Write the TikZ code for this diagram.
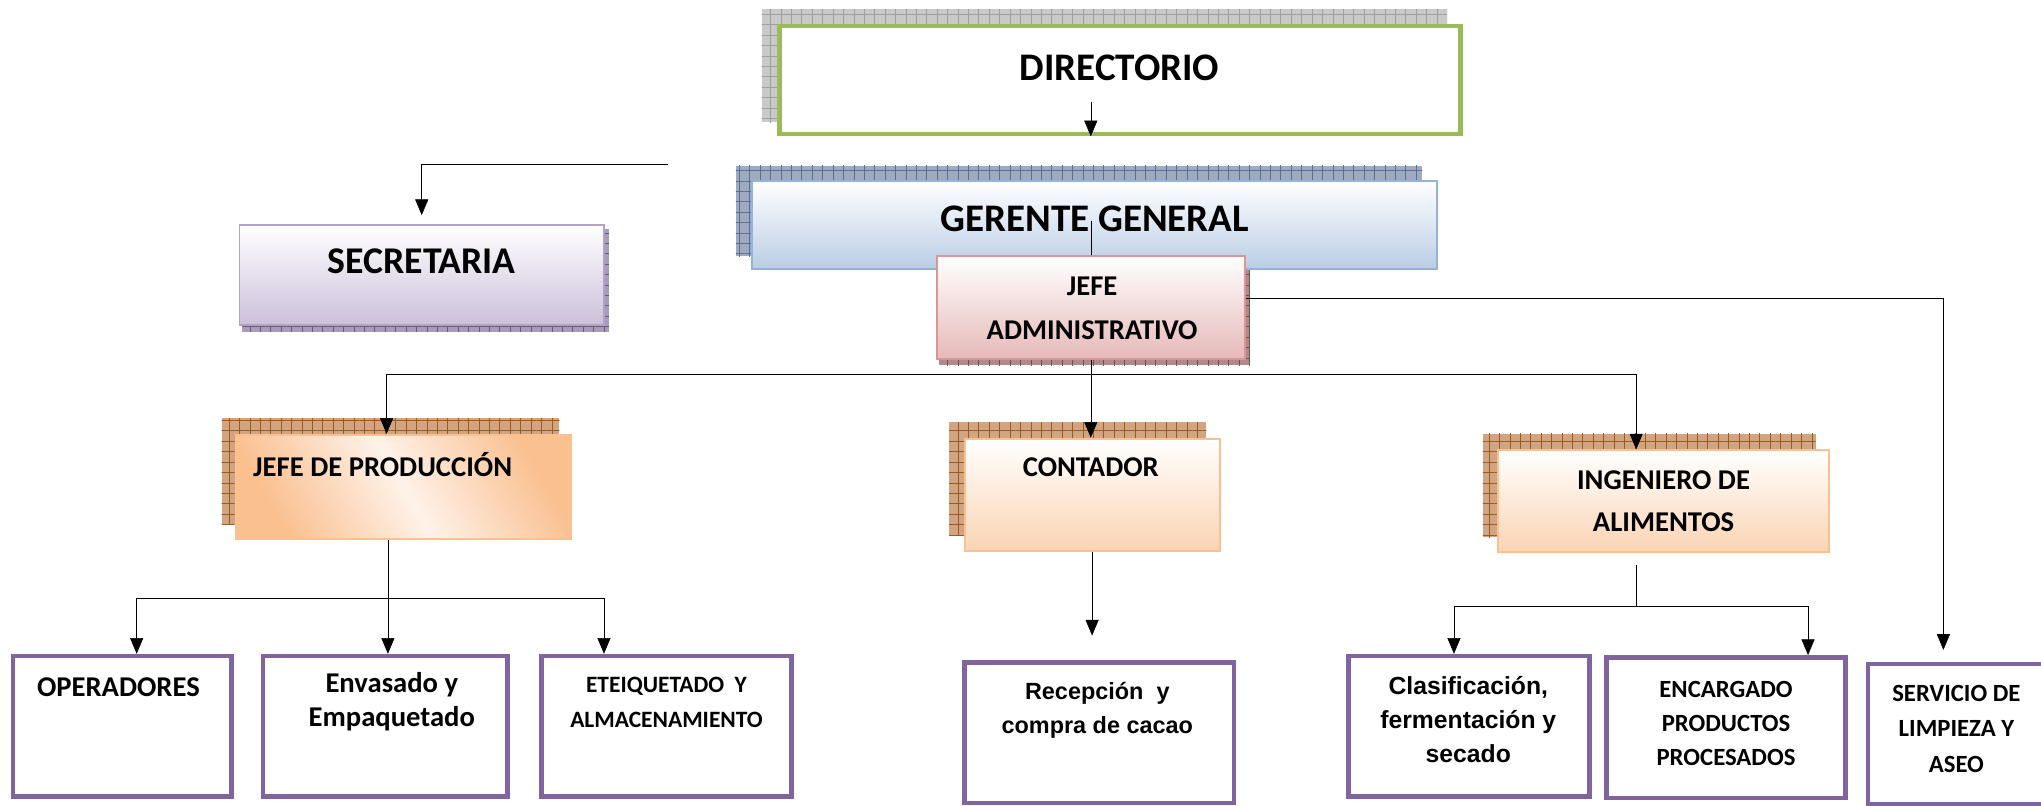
\documentclass[tikz,border=0pt]{standalone}
\usepackage{fontspec}
\setmainfont{Carlito}
\newfontfamily\arialfont{Liberation Sans}
\usetikzlibrary{arrows.meta,patterns.meta,backgrounds}

\definecolor{verde}{HTML}{9BBB59}
\definecolor{azul}{HTML}{B9CDE5}
\definecolor{azulborde}{HTML}{95B3D7}
\definecolor{lila}{HTML}{CCC0DA}
\definecolor{lilaborde}{HTML}{B3A2C7}
\definecolor{rosa}{HTML}{E6B9B8}
\definecolor{rosaborde}{HTML}{D99694}
\definecolor{naranja}{HTML}{FAC090}
\definecolor{durazno}{HTML}{FBD4B4}
\definecolor{morado}{HTML}{8064A2}
\definecolor{gris}{HTML}{C9C9C9}
\definecolor{grisosc}{HTML}{9E9E9E}
\definecolor{azulg}{HTML}{9DAAC0}
\definecolor{azulgosc}{HTML}{5A7090}
\definecolor{lilag}{HTML}{A99BBD}
\definecolor{rosag}{HTML}{B08A8A}
\definecolor{cafe}{HTML}{D1A582}
\definecolor{cafeosc}{HTML}{9C5A20}

\tikzset{
>={Triangle[length=12pt,width=10pt]},
line width=1.2pt,
caja/.style 2 args={minimum width=#1, minimum height=#2, inner sep=0pt},
cargo/.style={line width=1.5pt, top color=white},
area/.style={draw=morado, line width=3.5pt, fill=white},
rotulo/.style 2 args={font=\bfseries\fontsize{#1}{#2}\selectfont, inner sep=0pt, align=center},
}

% sombra cuadriculada detras de una caja
\newcommand\sombra[5]{%
  \path[fill=#4, postaction={pattern={Hatch[distance=8pt,angle=0,line width=0.6pt]}, pattern color=#5}]
    ([shift={(#2,#3)}]#1.north west) rectangle ([shift={(#2,#3)}]#1.south east);}

\begin{document}
\begin{tikzpicture}[x=1pt,y=-1pt]
  \useasboundingbox (0,0) rectangle (1568,619);
  \clip (0,0) rectangle (1568,619);

  % cajas
  \node[caja={523}{83}, draw=verde, line width=3.5pt, fill=white] (dir) at (860.5,61.5) {};
  \node[caja={526}{68}, cargo, draw=azulborde, bottom color=azul] (ger) at (841,173) {};
  \node[caja={280}{77}, cargo, draw=lilaborde, bottom color=lila] (sec) at (324,211.5) {};
  \node[caja={237}{79}, cargo, draw=rosaborde, bottom color=rosa] (jadm) at (838,236.5) {};
  \node[caja={258}{80}, line width=1.5pt, draw=naranja, top color=naranja, bottom color=naranja,
        middle color=naranja!20, shading angle=120] (jprod) at (310,374) {};
  \node[caja={196}{86}, cargo, draw=naranja, bottom color=durazno] (cont) at (839,380) {};
  \node[caja={254}{78}, cargo, draw=naranja, bottom color=durazno] (ing) at (1278,385) {};

  \node[caja={168}{108}, area] (oper) at (94,558) {};
  \node[caja={188}{108}, area] (env) at (296,558) {};
  \node[caja={192}{108}, area] (etiq) at (512,558) {};
  \node[caja={207}{108}, area] (recep) at (844.5,563) {};
  \node[caja={185}{108}, area] (clas) at (1128.5,558) {};
  \node[caja={184}{108}, area] (enc) at (1326,559) {};
  \node[caja={190}{108}, area] (serv) at (1530,564) {};

  \begin{scope}[on background layer]
    \sombra{dir}{-12}{-11}{gris}{grisosc}
    \sombra{ger}{-12}{-11}{azulg}{azulgosc}
    \sombra{sec}{3}{4}{lilag}{lilag!60!black}
    \sombra{jadm}{3}{4}{rosag}{rosag!60!black}
    \sombra{jprod}{-10}{-12}{cafe}{cafeosc}
    \sombra{cont}{-11}{-12}{cafe}{cafeosc}
    \sombra{ing}{-11}{-12}{cafe}{cafeosc}
  \end{scope}

  % textos
  \node[rotulo={30}{30}] (tdir) at (860,52) {DIRECTORIO};
  \node[rotulo={30}{30}] (tger) at (841,168) {GERENTE GENERAL};
  \node[rotulo={29}{29}] (tsec) at (324,201) {SECRETARIA};
  \node[rotulo={22}{34}] (tjadm) at (839,237) {JEFE\\ADMINISTRATIVO};
  \node[rotulo={22}{22}] (tjprod) at (294,357) {JEFE DE PRODUCCIÓN};
  \node[rotulo={22}{22}] (tcont) at (838,359) {CONTADOR};
  \node[rotulo={22}{32}] (ting) at (1278,385) {INGENIERO DE\\ALIMENTOS};
  \node[rotulo={22}{22}] (toper) at (91,528) {OPERADORES};
  \node[rotulo={22}{26}] (tenv) at (301,539) {Envasado y\\Empaquetado};
  \node[rotulo={18}{27}] (tetiq) at (512,539.5) {ETEIQUETADO~~Y\\ALMACENAMIENTO};
  \node[rotulo={18}{26}, font=\arialfont\bfseries\fontsize{18}{26}\selectfont] (trecep) at (843,546) {Recepción~~y\\compra de cacao};
  \node[rotulo={19}{26}, font=\arialfont\bfseries\fontsize{19}{26}\selectfont] (tclas) at (1128,553) {Clasificación,\\fermentación y\\secado};
  \node[rotulo={19}{26}] (tenc) at (1326,556) {ENCARGADO\\PRODUCTOS\\PROCESADOS};
  \node[rotulo={19}{27}] (tserv) at (1503,560) {SERVICIO DE\\LIMPIEZA Y\\ASEO};

  % conectores
  \coordinate (dirtail) at (838,78);
  \coordinate (gertail) at (838,170);
  \coordinate (secini) at (513,126);
  \draw[->] (dirtail) -- (dirtail |- dir.south);
  \draw (gertail) -- (gertail |- jadm.north);
  \draw[->, shorten >=7pt] (secini) -| (sec.north);
  \draw[->, shorten >=9pt] ([yshift=7.5pt]jadm.east) -| ([xshift=-37pt]serv.north);

  \draw (jadm.south) -- ++(0,11) coordinate (bus);
  \draw[->] (bus) -- (bus |- cont.north);
  \draw[->] (bus) -| ([xshift=-13pt]jprod.north);
  \draw[->] (bus) -| ([xshift=-21pt]ing.north);

  \draw ([xshift=-12pt]jprod.south) -- ++(0,45) coordinate (pbus);
  \draw[->] (pbus) -| ([xshift=11pt]oper.north);
  \draw[->] (pbus) -- (pbus |- env.north);
  \draw[->] (pbus) -| ([xshift=-48pt]etiq.north);

  \draw[->, shorten >=19pt] (cont.south) -- (cont.south |- recep.north);

  \draw ([xshift=-21pt,yshift=-9pt]ing.south) -- ++(0,32) coordinate (ibus);
  \draw[->] (ibus) -| ([xshift=-11.5pt]clas.north);
  \draw[->] (ibus) -| ([xshift=63pt]enc.north);
\end{tikzpicture}
\end{document}
